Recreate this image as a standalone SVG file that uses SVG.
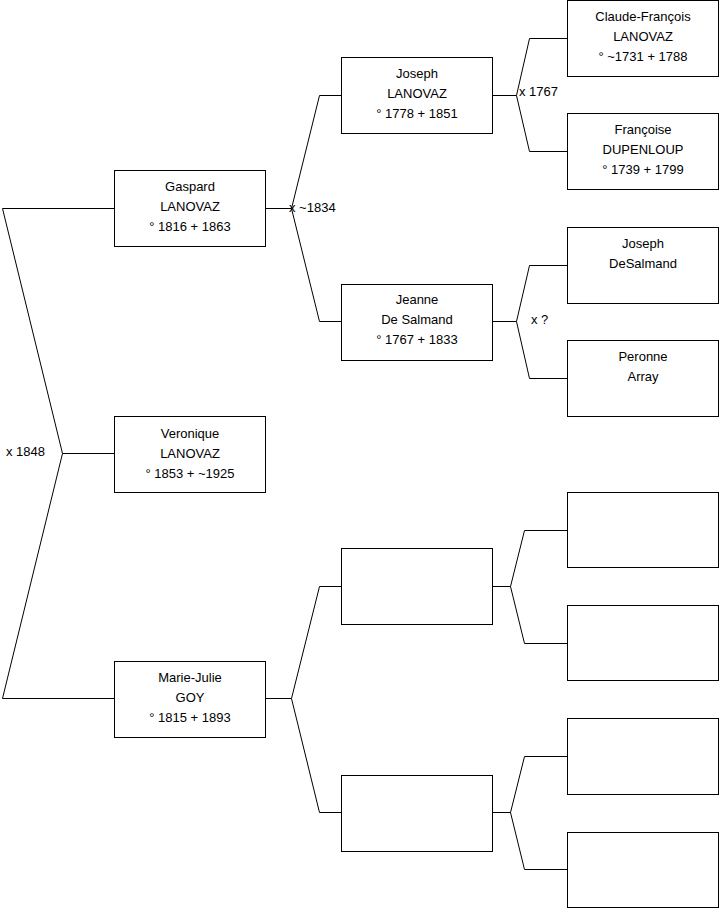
<svg xmlns="http://www.w3.org/2000/svg" width="719" height="908" viewBox="0 0 719 908">
<style>
.box{fill:#fff;stroke:#000;stroke-width:1}
.c{fill:none;stroke:#000;stroke-width:1}
text{font-family:"Liberation Sans",Arial,sans-serif;font-size:13px;fill:#000}
.t{text-anchor:middle}
</style>
<rect width="719" height="908" fill="#fff"/>
<g id="connectors">
<path class="c" d="M114.5,208.5H2.5L62.5,453.5L2.5,698.5H114.5M62.5,453.5H114.5"/>
<path class="c" d="M265.5,208.5H291.5M319.5,95.5L291.5,208.5L319.5,321.5M319.5,95.5H341.5M319.5,321.5H341.5"/>
<path class="c" d="M492.5,95.5H516.5M529.5,38.5L516.5,95.5L529.5,151.5M529.5,38.5H567.5M529.5,151.5H567.5"/>
<path class="c" d="M492.5,321.5H516.5M529.5,265.5L516.5,321.5L529.5,378.5M529.5,265.5H567.5M529.5,378.5H567.5"/>
<path class="c" d="M265.5,698.5H291.5M319.5,586.5L291.5,698.5L319.5,812.5M319.5,586.5H341.5M319.5,812.5H341.5"/>
<path class="c" d="M492.5,586.5H510.5M524.5,530.5L510.5,586.5L524.5,643.5M524.5,530.5H567.5M524.5,643.5H567.5"/>
<path class="c" d="M492.5,812.5H510.5M524.5,756.5L510.5,812.5L524.5,869.5M524.5,756.5H567.5M524.5,869.5H567.5"/>
<text x="6" y="456">x 1848</text>
<text x="289" y="212">x ~1834</text>
<text x="519" y="96">x 1767</text>
<text x="531" y="324">x ?</text>
</g>
<g id="gaspard"><rect class="box" x="114.5" y="170.5" width="151" height="76"/><text class="t" x="190" y="191">Gaspard</text><text class="t" x="190" y="211">LANOVAZ</text><text class="t" x="190" y="231">° 1816 + 1863</text></g>
<g id="veronique"><rect class="box" x="114.5" y="416.5" width="151" height="76"/><text class="t" x="190" y="438">Veronique</text><text class="t" x="190" y="458">LANOVAZ</text><text class="t" x="190" y="478">° 1853 + ~1925</text></g>
<g id="mariejulie"><rect class="box" x="114.5" y="661.5" width="151" height="76"/><text class="t" x="190" y="682">Marie-Julie</text><text class="t" x="190" y="702">GOY</text><text class="t" x="190" y="722">° 1815 + 1893</text></g>
<g id="joseph"><rect class="box" x="341.5" y="57.5" width="151" height="76"/><text class="t" x="417" y="78">Joseph</text><text class="t" x="417" y="98">LANOVAZ</text><text class="t" x="417" y="118">° 1778 + 1851</text></g>
<g id="jeanne"><rect class="box" x="341.5" y="284.5" width="151" height="76"/><text class="t" x="417" y="304">Jeanne</text><text class="t" x="417" y="324">De Salmand</text><text class="t" x="417" y="344">° 1767 + 1833</text></g>
<g id="empty1"><rect class="box" x="341.5" y="548.5" width="151" height="76"/></g>
<g id="empty2"><rect class="box" x="341.5" y="775.5" width="151" height="76"/></g>
<g id="claude"><rect class="box" x="567.5" y="0.5" width="151" height="76"/><text class="t" x="643" y="21">Claude-François</text><text class="t" x="643" y="41">LANOVAZ</text><text class="t" x="643" y="61">° ~1731 + 1788</text></g>
<g id="francoise"><rect class="box" x="567.5" y="113.5" width="151" height="76"/><text class="t" x="643" y="134">Françoise</text><text class="t" x="643" y="154">DUPENLOUP</text><text class="t" x="643" y="174">° 1739 + 1799</text></g>
<g id="josephdes"><rect class="box" x="567.5" y="227.5" width="151" height="76"/><text class="t" x="643" y="248">Joseph</text><text class="t" x="643" y="268">DeSalmand</text></g>
<g id="peronne"><rect class="box" x="567.5" y="340.5" width="151" height="76"/><text class="t" x="643" y="361">Peronne</text><text class="t" x="643" y="381">Array</text></g>
<g id="empty3"><rect class="box" x="567.5" y="492.5" width="151" height="75"/></g>
<g id="empty4"><rect class="box" x="567.5" y="605.5" width="151" height="75"/></g>
<g id="empty5"><rect class="box" x="567.5" y="718.5" width="151" height="76"/></g>
<g id="empty6"><rect class="box" x="567.5" y="832.5" width="151" height="75"/></g>
</svg>
